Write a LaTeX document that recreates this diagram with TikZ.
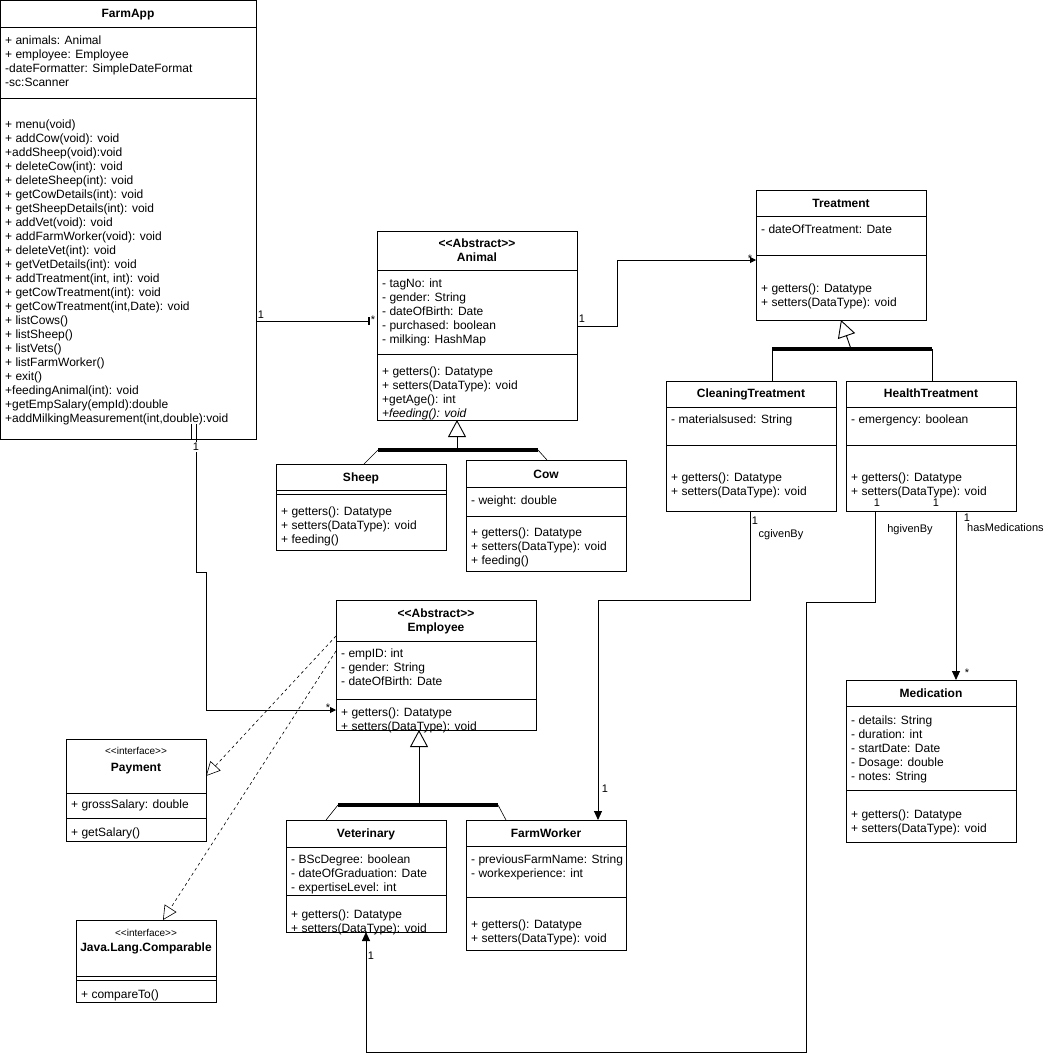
\documentclass[tikz,border=0pt]{standalone}
\usepackage{fontspec}
\setmainfont{Liberation Sans}
\usetikzlibrary{arrows.meta}
\newcommand\sttype[1]{<\kern0pt<#1>\kern0pt>}
\tikzset{
  box/.style={draw, anchor=north west, inner sep=0pt, outer sep=0pt, line width=0.9pt},
  cname/.style={font=\fontsize{12}{14}\selectfont\bfseries, align=center, text depth=2pt},
  stereo/.style={font=\fontsize{10}{12}\selectfont, inner sep=0pt},
  members/.style={anchor=north west, inner sep=0pt, align=left,
    font=\fontsize{12}{14}\selectfont, execute at begin node=\strut},
  mult/.style={font=\fontsize{11}{13}\selectfont, inner sep=1pt},
  assoc/.style={line width=0.9pt, -{Triangle[length=9pt,width=8pt]}},
  assocsmall/.style={line width=0.9pt, -{Triangle[length=6pt,width=6pt]}},
  gen/.style={line width=0.9pt, -{Triangle[open,length=17pt,width=18pt]}},
  genbar/.style={line width=3.5pt},
  real/.style={dashed, dash pattern=on 3pt off 3pt, line width=0.6pt,
    -{Triangle[open,length=14pt,width=14pt]}},
}
\begin{document}
\begin{tikzpicture}[x=1pt,y=-1pt]
\fill[white] (0,0) rectangle (1045,1061);
\useasboundingbox (0,0) rectangle (1045,1061);

% FarmApp
\node[box, minimum width=255.5pt, minimum height=26.5pt] (farm) at (0.5,0.5) {};
\node[box, minimum width=255.5pt, minimum height=71pt] (farm-a) at (farm.south west) {};
\node[box, minimum width=255.5pt, minimum height=341pt] (farm-m) at (farm-a.south west) {};
\node[cname] (farm-n) at (128,14) {FarmApp};
\node[members] (farm-at) at (5,36) {+ animals: Animal\\+ employee: Employee\\-dateFormatter: SimpleDateFormat\\-sc:Scanner};
\node[members] (farm-mt) at (5,120) {+ menu(void)\\+ addCow(void): void\\+addSheep(void):void\\+ deleteCow(int): void\\+ deleteSheep(int): void\\+ getCowDetails(int): void\\+ getSheepDetails(int): void\\+ addVet(void): void\\+ addFarmWorker(void): void\\+ deleteVet(int): void\\+ getVetDetails(int): void\\+ addTreatment(int, int): void\\+ getCowTreatment(int): void\\+ getCowTreatment(int,Date): void\\+ listCows()\\+ listSheep()\\+ listVets()\\+ listFarmWorker()\\+ exit()\\+feedingAnimal(int): void\\+getEmpSalary(empId):double\\+addMilkingMeasurement(int,double):void};

% Animal
\node[box, minimum width=200pt, minimum height=39pt] (animal) at (377,231) {};
\node[box, minimum width=200pt, minimum height=84pt] (animal-a) at (animal.south west) {};
\node[box, minimum width=200pt, minimum height=66pt] (animal-m) at (animal-a.south west) {};
\node[cname] (animal-n) at (477,251) {\sttype{Abstract}\\Animal};
\node[members] (animal-at) at (382,279) {- tagNo: int\\- gender: String\\- dateOfBirth: Date\\- purchased: boolean\\- milking: HashMap};
\node[members] (animal-mt) at (382,367) {+ getters(): Datatype\\+ setters(DataType): void\\+getAge(): int\\\textit{+feeding(): void}};

% Sheep
\node[box, minimum width=170pt, minimum height=26pt] (sheep) at (276,464) {};
\node[box, minimum width=170pt, minimum height=4pt] (sheep-a) at (sheep.south west) {};
\node[box, minimum width=170pt, minimum height=56pt] (sheep-m) at (sheep-a.south west) {};
\node[cname] (sheep-n) at (361,478) {Sheep};
\node[members] (sheep-mt) at (281,507) {+ getters(): Datatype\\+ setters(DataType): void\\+ feeding()};

% Cow
\node[box, minimum width=160pt, minimum height=27pt] (cow) at (466,460) {};
\node[box, minimum width=160pt, minimum height=29pt] (cow-a) at (cow.south west) {};
\node[box, minimum width=160pt, minimum height=55pt] (cow-m) at (cow-a.south west) {};
\node[cname] (cow-n) at (546,475) {Cow};
\node[members] (cow-at) at (471,494) {- weight: double};
\node[members] (cow-mt) at (471,528) {+ getters(): Datatype\\+ setters(DataType): void\\+ feeding()};

% Treatment
\node[box, minimum width=170pt, minimum height=26pt] (treat) at (756,190) {};
\node[box, minimum width=170pt, minimum height=39pt] (treat-a) at (treat.south west) {};
\node[box, minimum width=170pt, minimum height=65pt] (treat-m) at (treat-a.south west) {};
\node[cname] (treat-n) at (841,204) {Treatment};
\node[members] (treat-at) at (761,223) {- dateOfTreatment: Date};
\node[members] (treat-mt) at (761,284) {+ getters(): Datatype\\+ setters(DataType): void};

% CleaningTreatment
\node[box, minimum width=170pt, minimum height=26pt] (clean) at (666,381) {};
\node[box, minimum width=170pt, minimum height=38pt] (clean-a) at (clean.south west) {};
\node[box, minimum width=170pt, minimum height=66pt] (clean-m) at (clean-a.south west) {};
\node[cname] (clean-n) at (751,394) {CleaningTreatment};
\node[members] (clean-at) at (671,413) {- materialsused: String};
\node[members] (clean-mt) at (671,473) {+ getters(): Datatype\\+ setters(DataType): void};

% HealthTreatment
\node[box, minimum width=170pt, minimum height=26pt] (health) at (846,381) {};
\node[box, minimum width=170pt, minimum height=38pt] (health-a) at (health.south west) {};
\node[box, minimum width=170pt, minimum height=66pt] (health-m) at (health-a.south west) {};
\node[cname] (health-n) at (931,394) {HealthTreatment};
\node[members] (health-at) at (851,413) {- emergency: boolean};
\node[members] (health-mt) at (851,473) {+ getters(): Datatype\\+ setters(DataType): void};

% Medication
\node[box, minimum width=170pt, minimum height=26pt] (med) at (846,680) {};
\node[box, minimum width=170pt, minimum height=84pt] (med-a) at (med.south west) {};
\node[box, minimum width=170pt, minimum height=52pt] (med-m) at (med-a.south west) {};
\node[cname] (med-n) at (931,694) {Medication};
\node[members] (med-at) at (851,716) {- details: String\\- duration: int\\- startDate: Date\\- Dosage: double\\- notes: String};
\node[members] (med-mt) at (851,810) {+ getters(): Datatype\\+ setters(DataType): void};

% Employee
\node[box, minimum width=200pt, minimum height=41pt] (emp) at (336,600) {};
\node[box, minimum width=200pt, minimum height=58pt] (emp-a) at (emp.south west) {};
\node[box, minimum width=200pt, minimum height=31pt] (emp-m) at (emp-a.south west) {};
\node[cname] (emp-n) at (436,621) {\sttype{Abstract}\\Employee};
\node[members] (emp-at) at (341,649) {- empID: int\\- gender: String\\- dateOfBirth: Date};
\node[members] (emp-mt) at (341,708) {+ getters(): Datatype\\+ setters(DataType): void};

% Payment
\node[box, minimum width=140pt, minimum height=54pt] (pay) at (66,739) {};
\node[box, minimum width=140pt, minimum height=25pt] (pay-a) at (pay.south west) {};
\node[box, minimum width=140pt, minimum height=23pt] (pay-m) at (pay-a.south west) {};
\node[stereo] (pay-s) at (136,751) {\sttype{interface}};
\node[cname] (pay-n) at (136,768) {Payment};
\node[members] (pay-at) at (71,798) {+ grossSalary: double};
\node[members] (pay-mt) at (71,826) {+ getSalary()};

% Comparable
\node[box, minimum width=140pt, minimum height=56pt] (cmp) at (76,920) {};
\node[box, minimum width=140pt, minimum height=4pt] (cmp-a) at (cmp.south west) {};
\node[box, minimum width=140pt, minimum height=22pt] (cmp-m) at (cmp-a.south west) {};
\node[stereo] (cmp-s) at (146,933) {\sttype{interface}};
\node[cname] (cmp-n) at (146,948) {Java.Lang.Comparable};
\node[members] (cmp-mt) at (81,988) {+ compareTo()};

% Veterinary
\node[box, minimum width=160pt, minimum height=27pt] (vet) at (286,820) {};
\node[box, minimum width=160pt, minimum height=48pt] (vet-a) at (vet.south west) {};
\node[box, minimum width=160pt, minimum height=37pt] (vet-m) at (vet-a.south west) {};
\node[cname] (vet-n) at (366,834) {Veterinary};
\node[members] (vet-at) at (291,855) {- BScDegree: boolean\\- dateOfGraduation: Date\\- expertiseLevel: int};
\node[members] (vet-mt) at (291,910) {+ getters(): Datatype\\+ setters(DataType): void};

% FarmWorker
\node[box, minimum width=160pt, minimum height=26pt] (fw) at (466,820) {};
\node[box, minimum width=160pt, minimum height=51pt] (fw-a) at (fw.south west) {};
\node[box, minimum width=160pt, minimum height=53pt] (fw-m) at (fw-a.south west) {};
\node[cname] (fw-n) at (546,834) {FarmWorker};
\node[members] (fw-at) at (471,855) {- previousFarmName: String\\- workexperience: int};
\node[members] (fw-mt) at (471,920) {+ getters(): Datatype\\+ setters(DataType): void};

% generalisations
\draw[genbar] (378,450) -- (538,450);
\draw[gen] (457,450) -- (animal-m.south -| 457,0);
\draw[line width=0.6pt] (378,450) -- (sheep.north -| 364,0);
\draw[line width=0.6pt] (538,450) -- (cow.north -| 547,0);
\draw[genbar] (772,349) -- (932,349);
\draw[gen] (851,349) -- (treat-m.south);
\draw[line width=0.9pt] (772,349) -- (clean.north -| 772,0);
\draw[line width=0.9pt] (932,349) -- (health.north -| 932,0);
\draw[genbar] (338,805) -- (498,805);
\draw[gen] (419,805) -- (emp-m.south -| 419,0);
\draw[line width=0.6pt] (338,805) -- (vet.north -| 326,0);
\draw[line width=0.6pt] (498,805) -- (fw.north -| 506,0);

% realisations
\draw[real] (emp.west |- 0,636) -- (pay.east |- 0,776);
\draw[real] (emp-a.west |- 0,651) -- (cmp.north -| 163,0);

% associations
\draw[line width=0.9pt, -{Bar[width=8pt,line width=2.5pt]}, shorten >=7pt] (farm-m.east |- 0,321) -- (animal-a.west |- 0,321);
\node[mult] at (261,315) {1};
\node[mult] at (373,320) {*};
\draw[assocsmall] (animal-a.east |- 0,326) -| (617,260) -- (treat-m.west |- 0,260);
\node[mult] at (582,319) {1};
\node[mult] at (750,259) {*};
\draw[line width=0.9pt] (191,424) -- (191,439);
\draw[line width=0.9pt] (196,424) -- (196,439);
\draw[assocsmall] (farm-m.south -| 196,0) |- (206,572) |- (emp-m.west |- 0,710);
\node[mult, fill=white] at (196,447) {1};
\node[mult] at (328,708) {*};
\draw[assoc] (clean-m.south -| 750,0) |- (598,600) -- (fw.north -| 598,0);
\node[mult] at (755,521) {1};
\node[mult] at (781,535) {cgivenBy};
\node[mult] at (605,789) {1};
\draw[assoc] (health-m.south -| 875,0) |- (806,602) |- (366,1052) -- (vet-m.south -| 366,0);
\node[mult] at (877,503) {1};
\node[mult] at (910,530) {hgivenBy};
\node[mult] at (371,956) {1};
\draw[assoc] (health-m.south -| 956,0) -- (med.north -| 956,0);
\node[mult] at (936,503) {1};
\node[mult] at (967,518) {1};
\node[mult, anchor=west] at (966,528) {hasMedications};
\node[mult] at (967,673) {*};
\end{tikzpicture}
\end{document}
